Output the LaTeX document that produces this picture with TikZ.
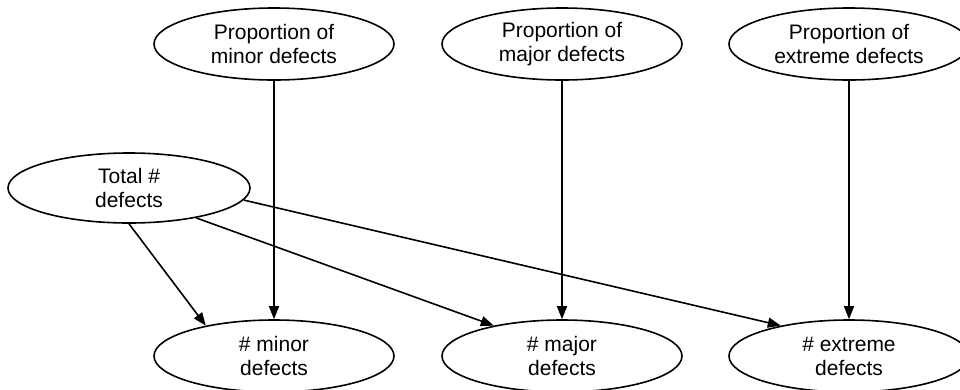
\documentclass[tikz,border=0pt]{standalone}
\usepackage{fontspec}
\setmainfont{Liberation Sans}
\usetikzlibrary{shapes.geometric,arrows.meta}
\begin{document}
\begin{tikzpicture}[x=1pt,y=-1pt,
  oval/.style={draw,ellipse,line width=1.6pt,minimum width=240pt,minimum height=72pt,inner sep=0pt,
    align=center,font=\fontsize{21}{24}\selectfont},
  conn/.style={line width=1.6pt,-{Triangle[length=13pt,width=10pt]}}]
\useasboundingbox (0,0) rectangle (960,389);
\node[oval] (pminor) at (274,44) {Proportion of\\minor defects};
\node[oval] (pmajor) at (562,44) {Proportion of\\major defects};
\node[oval] (pextreme) at (849,44) {Proportion of\\extreme defects};
\node[oval,minimum width=242pt,minimum height=70pt] (total) at (129,188) {Total \#\\defects};
\node[oval] (minor) at (274,356) {\# minor\\defects};
\node[oval] (major) at (562,356) {\# major\\defects};
\node[oval] (extreme) at (849,356) {\# extreme\\defects};
\draw[conn] (pminor.south) -- (minor.north);
\draw[conn] (pmajor.south) -- (major.north);
\draw[conn] (pextreme.south) -- (extreme.north);
\draw[conn] (total.-90) -- (minor.156);
\draw[conn] (total.-24) -- (major.156);
\draw[conn] (total.-6) -- (extreme.156);
\end{tikzpicture}
\end{document}
